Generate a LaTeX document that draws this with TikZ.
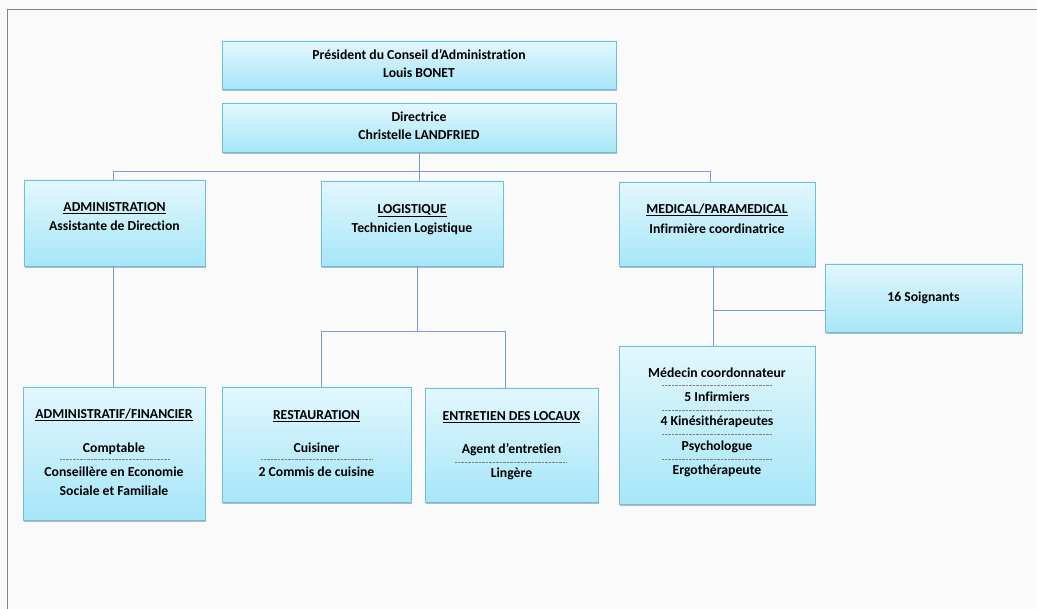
\documentclass[tikz,border=0pt]{standalone}
\usepackage{fontspec}
\setmainfont{Carlito}[Ligatures={NoCommon}]
\usetikzlibrary{shadows,calc}
\definecolor{boxline}{HTML}{6CC0DC}
\definecolor{boxtop}{HTML}{E3F7FD}
\definecolor{boxbot}{HTML}{A6E6F8}
\definecolor{conncol}{HTML}{7C9AD0}
\definecolor{framecol}{HTML}{858585}
\begin{document}
\begin{tikzpicture}[x=1pt,y=-1pt,
  box/.style={draw=boxline, line width=0.9pt, top color=boxtop, bottom color=boxbot, inner sep=0pt,
    drop shadow={shadow xshift=1.4pt, shadow yshift=-1.8pt, opacity=0.45, fill=black!60}},
  txt/.style={font=\bfseries\fontsize{13.7}{15}\selectfont, inner sep=0pt, anchor=base, text=black},
  conn/.style={draw=conncol, line width=0.9pt},
  sep/.style={draw=black!50, line width=0.4pt, densely dotted}]
\useasboundingbox (0,0) rectangle (1037,609);
\fill[white!98!black] (0,0) rectangle (1037,609);
\draw[framecol, line width=1.6pt] (7.5,609) -- (7.5,9.5) -- (1037,9.5);

% boxes
\node[box, minimum width=394pt, minimum height=48pt] (pres) at (419,65) {};
\node[box, minimum width=394pt, minimum height=49pt] (dir) at (419,127.5) {};
\node[box, minimum width=181pt, minimum height=86pt] (admin) at (114.5,223) {};
\node[box, minimum width=182pt, minimum height=85pt] (log) at (412,223.5) {};
\node[box, minimum width=196pt, minimum height=84pt] (med) at (717,224) {};
\node[box, minimum width=197pt, minimum height=68pt] (soin) at (923.5,298) {};
\node[box, minimum width=182pt, minimum height=133pt] (adminfin) at (114,453.5) {};
\node[box, minimum width=189pt, minimum height=115pt] (rest) at (316.5,444.5) {};
\node[box, minimum width=173pt, minimum height=114pt] (entr) at (511.5,445) {};
\node[box, minimum width=196pt, minimum height=158pt] (medecin) at (717,425) {};

% connectors
\coordinate (busL) at (113,171);
\coordinate (busR) at (710,171);
\draw[conn] (dir.south) -- (dir.south |- log.north);
\draw[conn] (busL |- admin.north) -- (busL) -- (busR) -- (busR |- med.north);
\draw[conn] (113,266) -- (113,387);
\coordinate (busL2) at (321,331);
\coordinate (busR2) at (505,331);
\draw[conn] (417,266) -- (417,331);
\draw[conn] (busL2 |- rest.north) -- (busL2) -- (busR2) -- (busR2 |- entr.north);
\coordinate (medj) at (713,310);
\draw[conn] (713,266) -- (713,346);
\draw[conn] (medj) -- (medj -| soin.west);

% texts
\node[txt] (t1) at (419,59.5) {Président du Conseil d’Administration};
\node[txt] (t2) at (419,77.5) {Louis BONET};
\node[txt] (t3) at (419,121.5) {Directrice};
\node[txt] (t4) at (419,139.5) {Christelle LANDFRIED};

\node[txt] (t5) at (114.5,211.5) {\underline{ADMINISTRATION}};
\node[txt] (t6) at (114.5,230.5) {Assistante de Direction};
\node[txt] (t7) at (412,213.5) {\underline{LOGISTIQUE}};
\node[txt] (t8) at (412,232.5) {Technicien Logistique};
\node[txt] (t9) at (717,213.5) {\underline{MEDICAL/PARAMEDICAL}};
\node[txt] (t10) at (717,233.5) {Infirmière coordinatrice};
\node[txt] (t11) at (923.5,301.5) {16 Soignants};

\node[txt] (t12) at (114,418.5) {\underline{ADMINISTRATIF/FINANCIER}};
\node[txt] (t13) at (114,452.5) {Comptable};
\draw[sep] (60,459.5) -- (170,459.5);
\node[txt] (t14) at (114,476.5) {Conseillère en Economie};
\node[txt] (t15) at (114,495.5) {Sociale et Familiale};

\node[txt] (t16) at (316.5,419.5) {\underline{RESTAURATION}};
\node[txt] (t17) at (316.5,452.5) {Cuisiner};
\draw[sep] (261,459.5) -- (372,459.5);
\node[txt] (t18) at (316.5,476.5) {2 Commis de cuisine};

\node[txt] (t19) at (511.5,420.5) {\underline{ENTRETIEN DES LOCAUX}};
\node[txt] (t20) at (511.5,453.5) {Agent d’entretien};
\draw[sep] (455,462) -- (566,462);
\node[txt] (t21) at (511.5,477.5) {Lingère};

\node[txt] (t22) at (717,377.5) {Médecin coordonnateur};
\draw[sep] (662,385.5) -- (772,385.5);
\node[txt] (t23) at (717,401.5) {5 Infirmiers};
\draw[sep] (662,410) -- (772,410);
\node[txt] (t24) at (717,425.5) {4 Kinésithérapeutes};
\draw[sep] (662,434.5) -- (772,434.5);
\node[txt] (t25) at (717,450.5) {Psychologue};
\draw[sep] (662,459) -- (772,459);
\node[txt] (t26) at (717,474.5) {Ergothérapeute};
\end{tikzpicture}
\end{document}
